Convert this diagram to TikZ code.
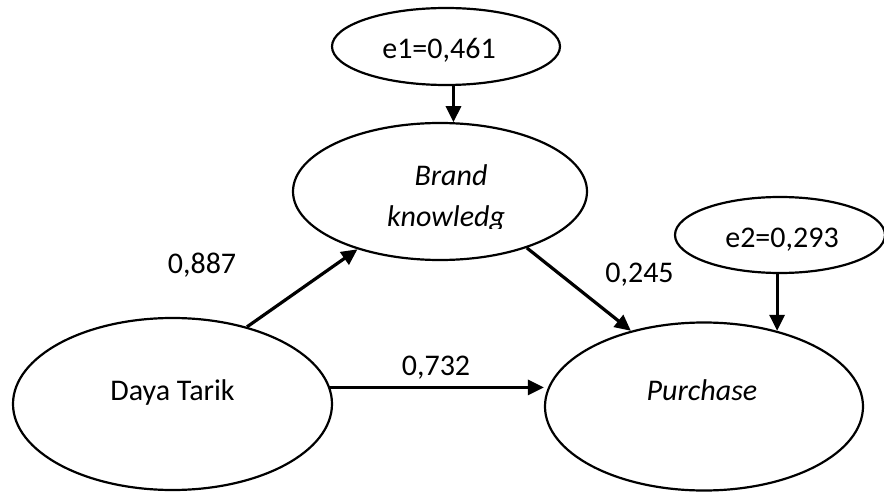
\documentclass[tikz,border=0pt]{standalone}
\usepackage{fontspec}
\setmainfont{Carlito}
\usetikzlibrary{shapes.geometric,arrows.meta}
\begin{document}
\begin{tikzpicture}[x=0.5pt,y=-0.5pt,
  oval/.style={draw,ellipse,line width=1.1pt,inner sep=0pt},
  txt/.style={anchor=base,inner sep=0pt,font=\fontsize{15}{18}\selectfont},
  link/.style={line width=1.6pt,-{Triangle[length=8pt,width=7.5pt]}}]
\useasboundingbox (0,0) rectangle (884,492);
% ellipses
\node[oval,minimum width=114pt,minimum height=38.5pt] (e1) at (446,46.5) {};
\node[oval,minimum width=147pt,minimum height=68.5pt] (bk) at (440,191.5) {};
\node[oval,minimum width=105pt,minimum height=38pt] (e2) at (780,235) {};
\node[oval,minimum width=159.5pt,minimum height=86pt] (dt) at (172.5,404) {};
\node[oval,minimum width=159pt,minimum height=84pt] (p) at (704,406.5) {};
% texts
\node[txt] (e1t) at (439,59) {e1=0,461};
\node[txt] (e2t) at (782,248) {e2=0,293};
\node[txt] (bkt1) at (451,185) {\itshape Brand};
\begin{scope}
  \clip (280,120) rectangle (600,228.5);
  \node[txt] (bkt2) at (446,227) {\itshape knowledg};
\end{scope}
\node[txt] (dtt) at (172.5,400) {Daya Tarik};
\node[txt] (pt) at (702,400) {\itshape Purchase};
% coefficients
\node[txt] (c1) at (202,273) {0,887};
\node[txt] (c2) at (639.5,282) {0,245};
\node[txt] (c3) at (436,375) {0,732};
% connectors
\draw[link] (bk.79 |- e1.south) -- (bk.79);
\draw[link] (p.46 |- e2.south) -- (p.46);
\draw[link] (dt.46) -- (bk.215);
\draw[link] (bk.-33) -- (p.134);
\draw[link] (dt.6) -- (p.west |- dt.6);
\end{tikzpicture}
\end{document}
